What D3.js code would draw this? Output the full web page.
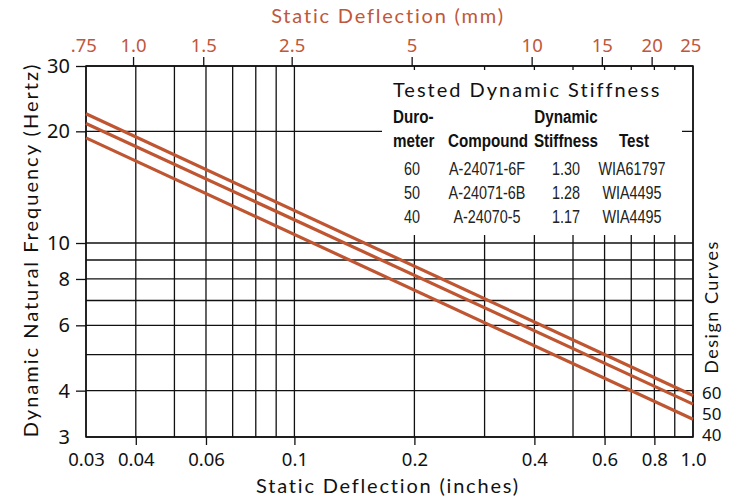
<!DOCTYPE html>
<html>
<head>
<meta charset="utf-8">
<script src="https://cdn.jsdelivr.net/npm/d3@7"></script>
<style>body{margin:0;background:#fff;}</style>
</head>
<body>
<script>
//chart values
let curveNames = ["60", "50", "40"]; //durometer of each design curve
let deflectionEnds = [0.03, 1.0]; //inches, where each curve starts and ends
let freq60 = [22.3, 3.88]; //Hz at those deflections
let freq50 = [21.0, 3.68];
let freq40 = [19.2, 3.35];

let xTicks = [0.03, 0.04, 0.06, 0.1, 0.2, 0.4, 0.6, 0.8, 1.0];
let xTickText = ["0.03", "0.04", "0.06", "0.1", "0.2", "0.4", "0.6", "0.8", "1.0"];
let xGrid = [0.03, 0.04, 0.05, 0.06, 0.07, 0.08, 0.09, 0.1, 0.2, 0.3, 0.4, 0.5, 0.6, 0.7, 0.8, 0.9, 1.0];
let yTicks = [3, 4, 6, 8, 10, 20, 30];
let yGrid = [3, 4, 5, 6, 7, 8, 9, 10, 20, 30];
let mmTicks = [0.75, 1, 1.5, 2.5, 5, 10, 15, 20, 25];
let mmTickText = [".75", "1.0", "1.5", "2.5", "5", "10", "15", "20", "25"];

//table of tested stiffness
let durometer = ["60", "50", "40"];
let compound = ["A-24071-6F", "A-24071-6B", "A-24070-5"];
let dynStiffness = ["1.30", "1.28", "1.17"];
let testId = ["WIA61797", "WIA4495", "WIA4495"];

let svg = d3.select("body").append("svg")
	.attr("width", 735)
	.attr("height", 498);

let orange = "#c0573a";
let lineColor = "#bf5531";
let numFont = "'Noto Sans', 'Open Sans', sans-serif";
let titleFont = "Lato, 'Noto Sans', sans-serif";
let narrowFont = "'Liberation Sans', Arial, sans-serif"; //squeezed with scale() below

let margin = {top: 66, right: 42, bottom: 61, left: 86};
let innerWidth = 735 - margin.left - margin.right;
let innerHeight = 498 - margin.top - margin.bottom;

let x = d3.scaleLog().domain([0.03, 1.0]).range([0, innerWidth]);
let y = d3.scaleLog().domain([3, 30]).range([innerHeight, 0]);
//mm scale on top, same positions as inches * 25.4
let xmm = d3.scaleLog().domain([0.03 * 25.4, 25.4]).range([0, innerWidth]);

let g = svg.append("g")
	.attr("transform", `translate(${margin.left}, ${margin.top})`);

//grid lines
g.append("g").selectAll("line").data(xGrid).enter().append("line")
	.attr("x1", d => x(d)).attr("x2", d => x(d))
	.attr("y1", 0).attr("y2", innerHeight)
	.attr("stroke", "#111").attr("stroke-width", 1.3);

g.append("g").selectAll("line").data(yGrid).enter().append("line")
	.attr("x1", 0).attr("x2", innerWidth)
	.attr("y1", d => y(d)).attr("y2", d => y(d))
	.attr("stroke", "#111").attr("stroke-width", 1.3);

//white box behind the table hides the grid
g.append("rect")
	.attr("x", 382 - margin.left)
	.attr("y", 4)
	.attr("width", 300)
	.attr("height", 235 - margin.top - 4)
	.attr("fill", "white");

//frame
g.append("rect")
	.attr("width", innerWidth).attr("height", innerHeight)
	.attr("fill", "none").attr("stroke", "#111").attr("stroke-width", 1.5);

//left axis
let yAxis = d3.axisLeft(y)
	.tickValues(yTicks)
	.tickFormat(d3.format("d"))
	.tickSize(10)
	.tickPadding(6);

let yG = g.append("g").call(yAxis);
yG.select(".domain").remove();
yG.selectAll("line").attr("stroke", "#111").attr("stroke-width", 1.3)
	.filter(d => d == 3).remove();
yG.selectAll("text").attr("font-family", numFont).attr("font-size", 20).attr("fill", "#111");

//bottom axis
let xAxis = d3.axisBottom(x)
	.tickValues(xTicks)
	.tickFormat((d, i) => xTickText[i])
	.tickSize(8)
	.tickPadding(8);

let xG = g.append("g").attr("transform", `translate(0, ${innerHeight})`).call(xAxis);
xG.select(".domain").remove();
xG.selectAll("line").attr("stroke", "#111").attr("stroke-width", 1.3)
	.filter(d => d == 0.03 || d == 1.0).remove();
xG.selectAll("text").attr("font-family", numFont).attr("font-size", 18.5).attr("fill", "#111");

//top axis in mm
let topAxis = d3.axisTop(xmm)
	.tickValues(mmTicks)
	.tickFormat((d, i) => mmTickText[i])
	.tickSize(9)
	.tickPadding(5);

let tG = g.append("g").call(topAxis);
tG.select(".domain").remove();
tG.selectAll("line").attr("stroke", "#111").attr("stroke-width", 1.3)
	.filter(d => d == 0.75 || d == 25).remove();
tG.selectAll("text").attr("font-family", numFont).attr("font-size", 18.5).attr("fill", orange);

//design curves
let curves = [freq60, freq50, freq40];
let line = d3.line()
	.x((d, i) => x(deflectionEnds[i]))
	.y(d => y(d));

g.selectAll(".curve").data(curves).enter().append("path")
	.attr("class", "curve")
	.attr("d", d => line(d))
	.attr("fill", "none")
	.attr("stroke", lineColor)
	.attr("stroke-width", 3.2);

//curve labels at the right
g.selectAll(".clabel").data(curveNames).enter().append("text")
	.attr("class", "clabel")
	.attr("x", innerWidth + 9)
	.attr("y", (d, i) => 333 + i * 21)
	.attr("font-family", numFont)
	.attr("font-size", 17)
	.attr("fill", "#111")
	.text(d => d);

svg.append("text")
	.attr("transform", "translate(718, 307) rotate(-90)")
	.attr("text-anchor", "middle")
	.attr("font-family", titleFont)
	.attr("font-size", 18)
	.attr("letter-spacing", 1.5)
	.attr("fill", "#111")
	.text("Design Curves");

//axis titles
svg.append("text")
	.attr("x", 388).attr("y", 23)
	.attr("text-anchor", "middle")
	.attr("font-family", titleFont)
	.attr("font-size", 20)
	.attr("letter-spacing", 1.8)
	.attr("fill", orange)
	.text("Static Deflection (mm)");

svg.append("text")
	.attr("x", 388).attr("y", 493)
	.attr("text-anchor", "middle")
	.attr("font-family", titleFont)
	.attr("font-size", 20)
	.attr("letter-spacing", 1.8)
	.attr("fill", "#111")
	.text("Static Deflection (inches)");

svg.append("text")
	.attr("transform", "translate(38, 250) rotate(-90)")
	.attr("text-anchor", "middle")
	.attr("font-family", titleFont)
	.attr("font-size", 20)
	.attr("letter-spacing", 2)
	.attr("fill", "#111")
	.text("Dynamic Natural Frequency (Hertz)");

//table
svg.append("text")
	.attr("x", 393).attr("y", 97)
	.attr("font-family", titleFont)
	.attr("font-size", 20)
	.attr("letter-spacing", 2)
	.attr("fill", "#111")
	.text("Tested Dynamic Stiffness");

let headers = [
	{t: "Duro-", x: 393, y: 123, a: "start"},
	{t: "meter", x: 393, y: 147, a: "start"},
	{t: "Compound", x: 488, y: 147, a: "middle"},
	{t: "Dynamic", x: 566, y: 123, a: "middle"},
	{t: "Stiffness", x: 566, y: 147, a: "middle"},
	{t: "Test", x: 634, y: 147, a: "middle"}
];

svg.append("g").selectAll("text").data(headers).enter().append("text")
	.attr("transform", d => `translate(${d.x}, ${d.y}) scale(0.8, 1)`)
	.attr("text-anchor", d => d.a)
	.attr("font-family", narrowFont)
	.attr("font-weight", "bold")
	.attr("font-size", 19)
	.attr("fill", "#111")
	.text(d => d.t);

let columns = [durometer, compound, dynStiffness, testId];
let colX = [412, 487, 566, 632];

columns.forEach(function(col, c) {
	svg.append("g").selectAll("text").data(col).enter().append("text")
		.attr("transform", (d, i) => `translate(${colX[c]}, ${175 + i * 24}) scale(0.8, 1)`)
		.attr("text-anchor", "middle")
		.attr("font-family", narrowFont)
		.attr("font-size", 18)
		.attr("fill", "#222")
		.text(d => d);
});
</script>
</body>
</html>
